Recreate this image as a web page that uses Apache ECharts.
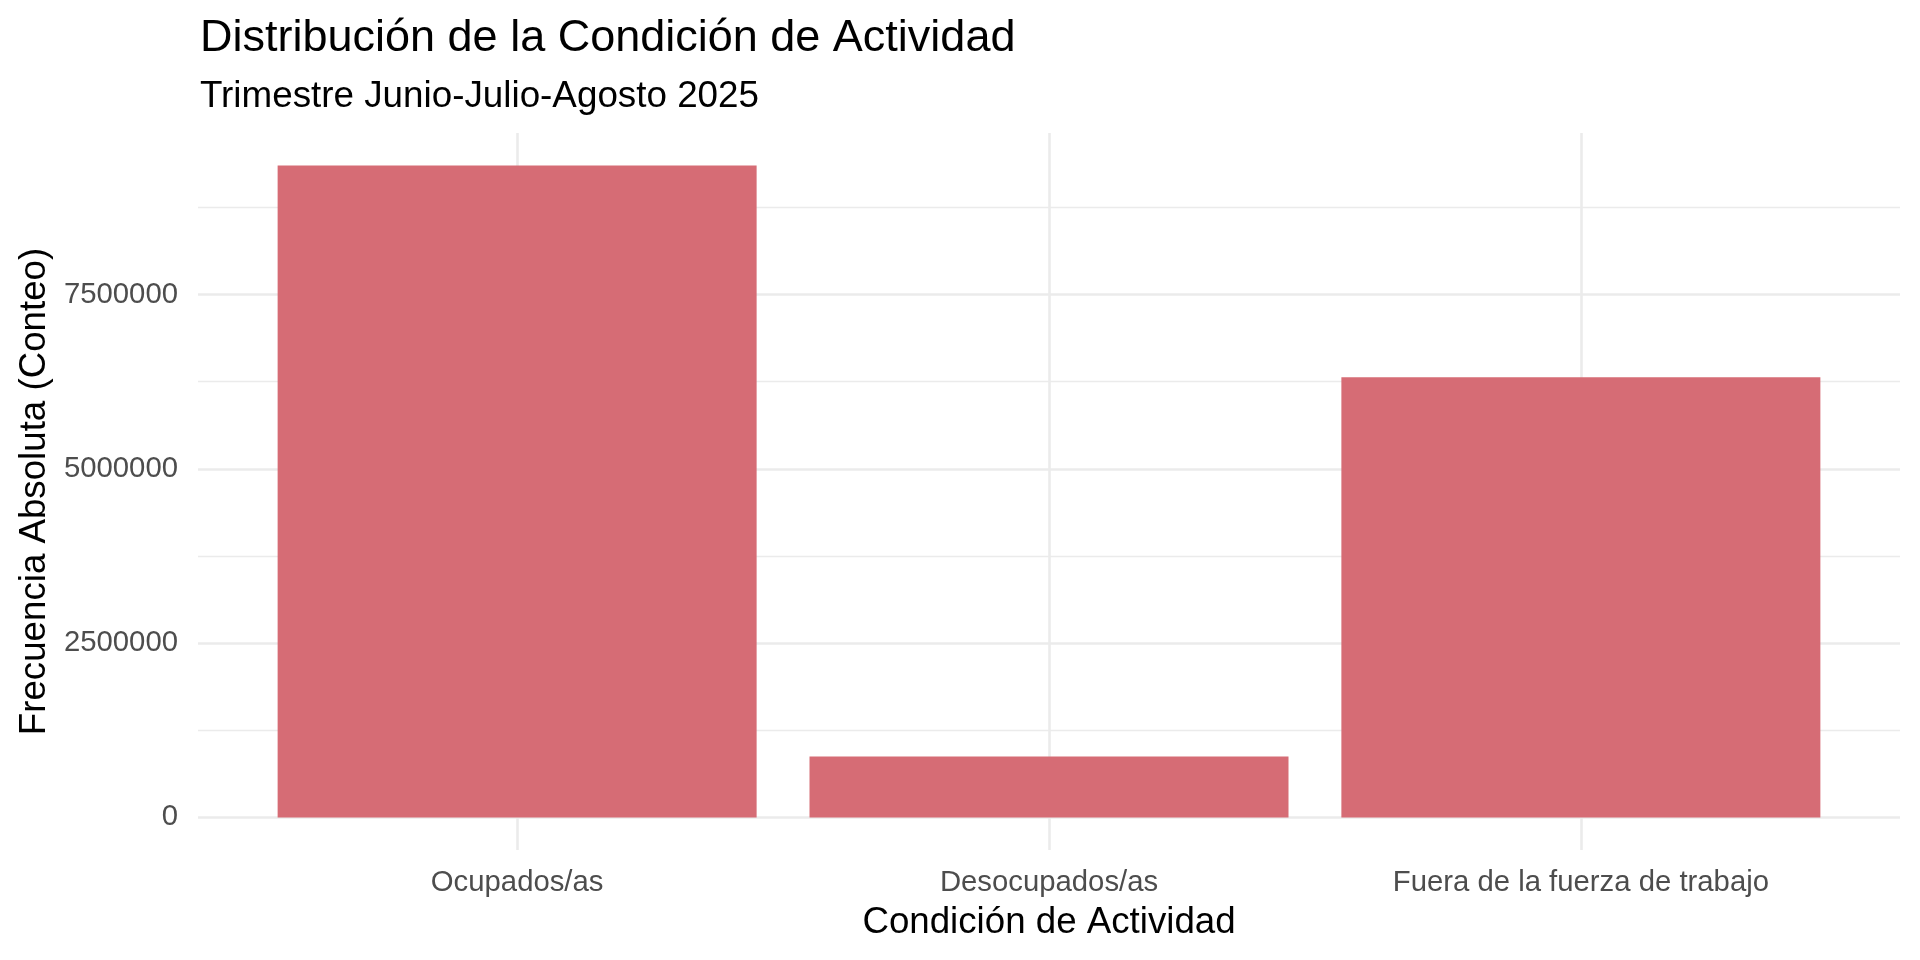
<!DOCTYPE html>
<html>
<head>
<meta charset="utf-8">
<script src="https://cdn.jsdelivr.net/npm/echarts@6/dist/echarts.min.js"></script>
<style>
html,body{margin:0;padding:0;background:#fff;}
#chart{width:1920px;height:960px;}
</style>
</head>
<body>
<div id="chart"></div>
<script>
const categories = ["Ocupados/as", "Desocupados/as", "Fuera de la fuerza de trabajo"];
const values = [9351000, 874000, 6315000];
const yMajorTicks = [0, 2500000, 5000000, 7500000];
const yMinorTicks = [1250000, 3750000, 6250000, 8750000];
const titleText = "Distribución de la Condición de Actividad";
const subtitleText = "Trimestre Junio-Julio-Agosto 2025";
const xTitle = "Condición de Actividad";
const yTitle = "Frecuencia Absoluta (Conteo)";

const FONT = "Liberation Sans, Arial, sans-serif";
const xPos = categories.map((c, i) => i + 1);
const dataMax = Math.max(...values);
const yMin = -0.05 * dataMax;
const yMax = dataMax * 1.05;

const gridColor = "#EBEBEB";
const chart = echarts.init(document.getElementById("chart"), null, {renderer: "canvas"});
chart.setOption({
  animation: false,
  backgroundColor: "#ffffff",
  title: [
    {text: titleText, left: 200, top: 16, padding: 0,
     textStyle: {fontFamily: FONT, fontSize: 45, fontWeight: "normal", color: "#000"}},
    {text: subtitleText, left: 200, top: 78, padding: 0,
     textStyle: {fontFamily: FONT, fontSize: 36.8, fontWeight: "normal", color: "#000"}}
  ],
  grid: {left: 198, right: 20, top: 133, bottom: 110, containLabel: false},
  xAxis: {
    type: "value", min: 0.4, max: 3.6,
    axisLine: {show: false}, axisTick: {show: false}, splitLine: {show: false},
    axisLabel: {
      customValues: xPos, margin: 18,
      fontFamily: FONT, fontSize: 29.3, color: "#4D4D4D",
      formatter: v => categories[Math.round(v) - 1] || ""
    },
    name: xTitle, nameLocation: "middle", nameGap: 54,
    nameTextStyle: {fontFamily: FONT, fontSize: 36.7, color: "#000"}
  },
  yAxis: {
    type: "value", min: yMin, max: yMax,
    axisLine: {show: false}, axisTick: {show: false}, splitLine: {show: false},
    axisLabel: {
      customValues: yMajorTicks, margin: 20,
      fontFamily: FONT, fontSize: 29.3, color: "#4D4D4D",
      formatter: v => String(Math.round(v))
    },
    name: yTitle, nameLocation: "middle", nameGap: 137,
    nameTextStyle: {fontFamily: FONT, fontSize: 36.7, color: "#000"}
  },
  series: [
    {
      type: "line", data: [], z: 0, silent: true,
      markLine: {
        silent: true, z: 0, symbol: ["none", "none"], label: {show: false},
        emphasis: {disabled: true},
        data: [
          ...yMinorTicks.map(v => ({yAxis: v, lineStyle: {color: gridColor, width: 1.3, type: "solid"}})),
          ...yMajorTicks.map(v => ({yAxis: v, lineStyle: {color: gridColor, width: 2.6, type: "solid"}})),
          ...xPos.map(v => ({xAxis: v, lineStyle: {color: gridColor, width: 2.6, type: "solid"}}))
        ]
      }
    },
    {
      type: "bar", z: 3, barWidth: 479,
      itemStyle: {color: "#D66C75"},
      data: values.map((v, i) => [xPos[i], v])
    }
  ]
});
</script>
</body>
</html>
